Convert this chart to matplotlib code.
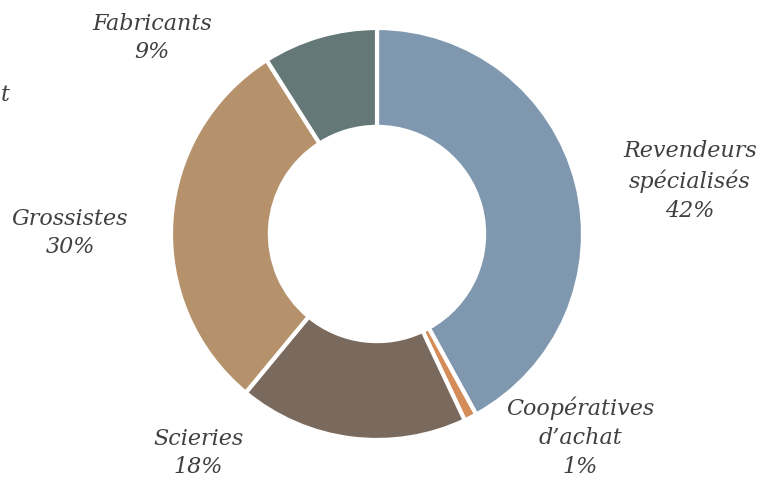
import matplotlib.pyplot as plt

categories = ["Revendeurs\nspécialisés", "Coopératives\nd\u2019achat", "Scieries", "Grossistes", "Fabricants"]
shares = [42, 1, 18, 30, 9]
colors = ["#7f98b0", "#d48c58", "#7a695d", "#b5926b", "#647878"]

# positions des étiquettes (pixels dans l'image 776x486)
label_pos = [(690, 181), (580, 437), (198, 453), (70, 233), (152, 38)]

W, H = 776, 486
fig = plt.figure(figsize=(W / 100, H / 100), dpi=100)

cx, cy, r = 377, 234, 206
ax = fig.add_axes([(cx - r) / W, (H - cy - r) / H, 2 * r / W, 2 * r / H])
ax.pie(shares, colors=colors, startangle=90, counterclock=False, radius=1,
       wedgeprops=dict(width=0.48, edgecolor="white", linewidth=3))
ax.set_xlim(-1, 1)
ax.set_ylim(-1, 1)
ax.set_aspect("equal")
ax.axis("off")

font = dict(family="DejaVu Serif", style="italic", size=16, color="#404040")
for name, val, (x, y) in zip(categories, shares, label_pos):
    fig.text(x / W, 1 - y / H, f"{name}\n{val}%", ha="center", va="center",
             linespacing=1.4, **font)

# étiquette coupée au bord gauche
fig.text(1 / W, 1 - 95 / H, "t", ha="left", va="center", **font)

fig.savefig("out.png", dpi=100)
